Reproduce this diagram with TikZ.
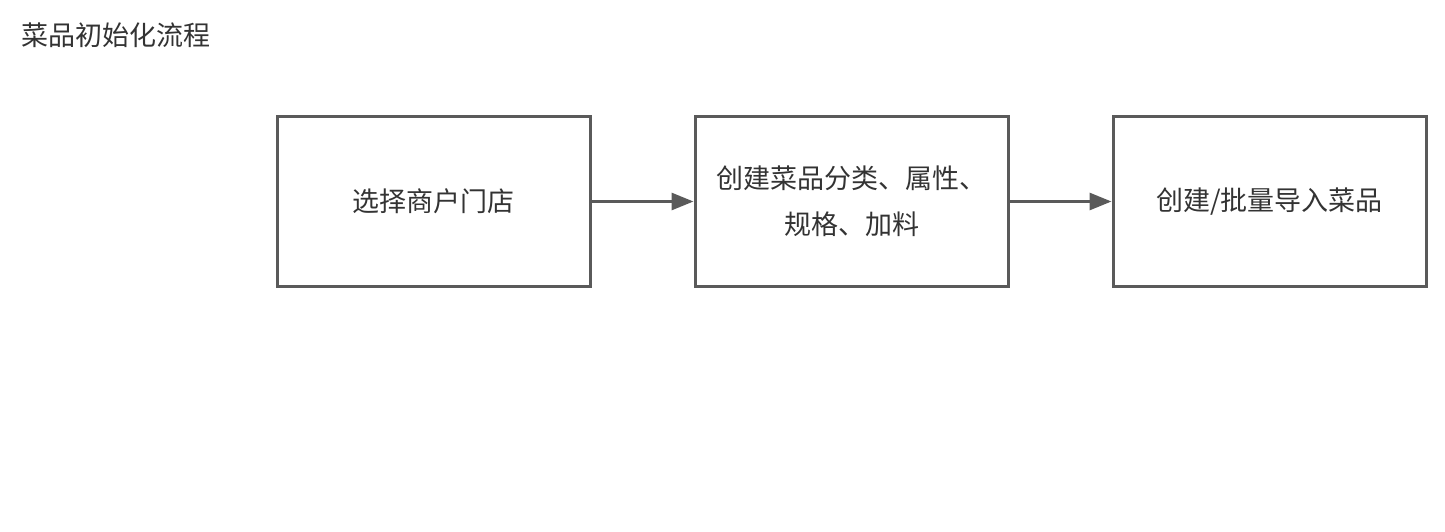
\documentclass[tikz,border=0pt]{standalone}
\usepackage{fontspec}
\newfontfamily\cjk{Noto Sans CJK SC}
\usetikzlibrary{positioning,arrows.meta}
\definecolor{edge}{HTML}{5A5A5A}
\definecolor{ink}{HTML}{333333}
\begin{document}
\begin{tikzpicture}[line width=3pt, every node/.style={font=\cjk\fontsize{27}{46}\selectfont, text=ink},
  stepbox/.style={draw=edge, minimum width=313pt, minimum height=170pt, align=center},
  flow/.style={draw=edge, -{Triangle[length=22pt,width=17pt]}}]
\useasboundingbox (0,0) rectangle (1445pt,-532pt);

\node[anchor=west] (title) at (17pt,-35pt) {菜品初始化流程};

\node[stepbox] (shop) at (433.5pt,-201.5pt) {选择商户门店};
\node[stepbox, right=102pt of shop] (attr) {创建菜品分类、属性、\\规格、加料};
\node[stepbox, right=102pt of attr] (dish) {创建/批量导入菜品};

\draw[flow] (shop) -- (attr);
\draw[flow] (attr) -- (dish);
\end{tikzpicture}
\end{document}
